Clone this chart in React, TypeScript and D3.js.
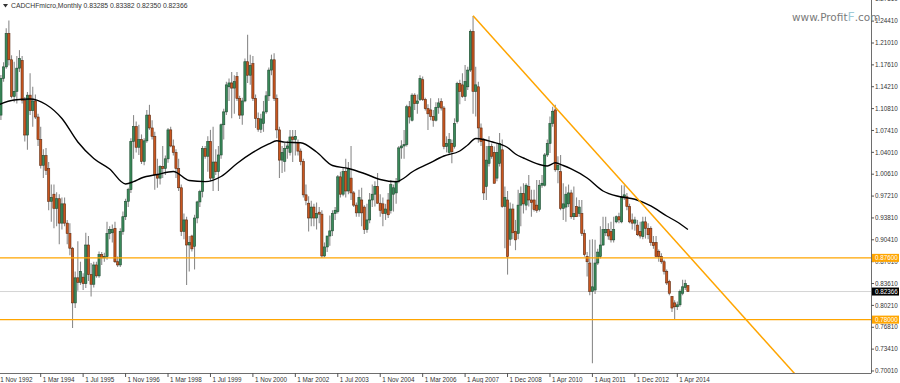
import React from "react";
import * as d3 from "d3";

const W = 900;
const H = 383;

const opens = [
  1.12, 1.098, 1.155, 1.173, 1.225, 1.184, 1.127, 1.135, 1.171, 1.183,
  1.121, 1.067, 1.129, 1.105, 1.12, 1.095, 1.06, 1.02, 1.035, 1.015,
  0.964, 0.975, 0.953, 0.968, 0.93, 0.96, 0.93, 0.914, 0.891, 0.806,
  0.845, 0.838, 0.846, 0.836, 0.896, 0.85, 0.835, 0.865, 0.848, 0.881,
  0.876, 0.878, 0.914, 0.915, 0.922, 0.87, 0.865, 0.917, 0.94, 0.964,
  0.982, 1.057, 1.08, 1.048, 1.06, 1.026, 1.058, 1.098, 1.078, 1.065,
  1.005, 1.0, 1.018, 1.015, 1.03, 1.075, 1.05, 1.04, 1.015, 0.985,
  0.917, 0.935, 0.896, 0.91, 0.894, 0.938, 0.963, 0.979, 1.046, 1.034,
  1.057, 1.0, 1.025, 1.01, 1.036, 1.083, 1.103, 1.142, 1.148, 1.14,
  1.158, 1.124, 1.098, 1.12, 1.181, 1.16, 1.178, 1.124, 1.093, 1.076,
  1.085, 1.103, 1.128, 1.168, 1.184, 1.124, 1.075, 1.028, 1.026, 1.046,
  1.04, 1.064, 1.06, 1.055, 1.042, 1.026, 0.974, 0.961, 0.938, 0.955,
  0.938, 0.947, 0.944, 0.879, 0.893, 0.91, 0.918, 0.945, 0.948, 1.002,
  0.975, 1.01, 0.98, 1.0, 0.977, 0.958, 0.946, 0.966, 0.955, 0.92,
  0.935, 0.966, 0.975, 0.987, 0.961, 0.96, 0.945, 0.966, 0.95, 0.975,
  0.977, 0.995, 1.047, 1.05, 1.052, 1.111, 1.09, 1.129, 1.116, 1.122,
  1.153, 1.122, 1.108, 1.106, 1.096, 1.09, 1.11, 1.119, 1.109, 1.049,
  1.04, 1.054, 1.049, 1.088, 1.147, 1.145, 1.127, 1.142, 1.168, 1.228,
  1.135, 1.142, 1.078, 1.059, 0.987, 1.023, 1.049, 1.04, 1.0, 1.023,
  1.044, 0.956, 0.966, 0.905, 0.952, 0.917, 0.914, 0.958, 0.976, 0.958,
  0.987, 0.966, 0.966, 0.958, 0.951, 0.989, 0.989, 1.036, 1.054, 1.085,
  1.106, 1.013, 1.01, 0.953, 0.955, 0.96, 0.977, 0.94, 0.956, 0.945,
  0.945, 0.914, 0.878, 0.868, 0.824, 0.826, 0.868, 0.878, 0.896, 0.915,
  0.92, 0.917, 0.904, 0.932, 0.94, 0.932, 0.971, 0.971, 0.956, 0.935,
  0.93, 0.927, 0.917, 0.909, 0.932, 0.922, 0.922, 0.9, 0.9, 0.886,
  0.878, 0.87, 0.855, 0.839, 0.816, 0.806, 0.8, 0.803, 0.821, 0.83,
  0.83285,
];

const highs = [
  1.13, 1.1605, 1.18, 1.233, 1.245, 1.191, 1.181, 1.19, 1.199, 1.19,
  1.126, 1.134, 1.163, 1.142, 1.13, 1.1, 1.08, 1.045, 1.047, 1.025,
  0.99, 0.99, 0.978, 0.975, 0.97, 0.97, 0.935, 0.93, 0.893, 0.855,
  0.902, 0.87, 0.852, 0.915, 0.91, 0.868, 0.87, 0.87, 0.886, 0.885,
  0.884, 0.932, 0.925, 0.928, 0.932, 0.878, 0.922, 0.948, 0.968, 0.985,
  1.062, 1.098, 1.088, 1.083, 1.068, 1.062, 1.106, 1.114, 1.09, 1.072,
  1.03, 1.02, 1.05, 1.035, 1.078, 1.08, 1.06, 1.045, 1.03, 0.99,
  0.945, 0.94, 0.91, 0.912, 0.943, 0.965, 0.982, 1.05, 1.05, 1.065,
  1.075, 1.08, 1.045, 1.05, 1.085, 1.108, 1.15, 1.155, 1.165, 1.16,
  1.165, 1.128, 1.125, 1.186, 1.223, 1.192, 1.19, 1.13, 1.102, 1.1,
  1.12, 1.135, 1.172, 1.192, 1.194, 1.13, 1.08, 1.05, 1.055, 1.058,
  1.075, 1.075, 1.075, 1.06, 1.046, 1.03, 0.99, 0.972, 0.965, 0.96,
  0.962, 0.955, 0.95, 0.9, 0.91, 0.942, 0.95, 0.955, 1.005, 1.01,
  1.016, 1.03, 1.025, 1.05, 0.98, 0.962, 0.982, 0.985, 0.958, 0.96,
  0.977, 0.99, 0.995, 1.008, 0.975, 0.97, 0.96, 0.977, 0.997, 0.99,
  1.0, 1.05, 1.059, 1.075, 1.114, 1.12, 1.132, 1.132, 1.13, 1.16,
  1.158, 1.125, 1.115, 1.124, 1.106, 1.118, 1.124, 1.124, 1.112, 1.065,
  1.07, 1.06, 1.093, 1.15, 1.153, 1.163, 1.176, 1.173, 1.231, 1.252,
  1.173, 1.15, 1.085, 1.062, 1.05, 1.065, 1.054, 1.049, 1.054, 1.07,
  1.06, 0.987, 0.98, 0.962, 0.96, 0.935, 0.982, 0.987, 0.992, 0.992,
  1.005, 0.982, 0.982, 0.997, 0.997, 1.005, 1.039, 1.06, 1.096, 1.111,
  1.114, 1.034, 1.036, 0.992, 0.987, 0.99, 0.982, 0.987, 0.97, 0.966,
  0.966, 0.92, 0.885, 0.904, 0.905, 0.904, 0.89, 0.925, 0.94, 0.94,
  0.93, 0.932, 0.94, 0.942, 0.946, 0.989, 0.989, 0.977, 0.96, 0.945,
  0.94, 0.935, 0.932, 0.94, 0.94, 0.93, 0.925, 0.91, 0.91, 0.889,
  0.883, 0.873, 0.858, 0.842, 0.816, 0.81, 0.808, 0.827, 0.842, 0.842,
  0.83382,
];

const lows = [
  1.09, 1.0905, 1.15, 1.17, 1.175, 1.124, 1.118, 1.116, 1.165, 1.116,
  1.057, 1.044, 1.098, 1.08, 1.092, 1.05, 1.015, 1.0, 1.005, 0.95,
  0.932, 0.922, 0.925, 0.897, 0.92, 0.925, 0.897, 0.88, 0.767, 0.798,
  0.825, 0.834, 0.826, 0.829, 0.84, 0.816, 0.83, 0.845, 0.845, 0.865,
  0.87, 0.873, 0.905, 0.9, 0.868, 0.862, 0.862, 0.912, 0.935, 0.955,
  0.977, 1.03, 1.04, 1.036, 1.022, 1.02, 1.055, 1.075, 1.06, 0.982,
  0.985, 0.99, 1.0, 1.005, 1.024, 1.048, 1.035, 1.0, 0.98, 0.91,
  0.905, 0.834, 0.855, 0.886, 0.858, 0.93, 0.955, 0.97, 1.03, 1.01,
  0.995, 0.98, 1.005, 0.98, 1.03, 1.06, 1.098, 1.12, 1.093, 1.1,
  1.12, 1.092, 1.083, 1.118, 1.148, 1.145, 1.12, 1.078, 1.072, 1.07,
  1.072, 1.1, 1.12, 1.16, 1.12, 1.062, 1.0, 1.008, 1.01, 1.03,
  1.035, 1.025, 1.035, 1.035, 1.02, 0.97, 0.958, 0.917, 0.925, 0.925,
  0.92, 0.93, 0.876, 0.877, 0.885, 0.895, 0.91, 0.935, 0.945, 0.97,
  0.972, 0.97, 0.975, 0.966, 0.955, 0.94, 0.94, 0.925, 0.913, 0.915,
  0.93, 0.955, 0.956, 0.96, 0.94, 0.925, 0.935, 0.938, 0.945, 0.948,
  0.96, 0.992, 1.03, 1.03, 1.049, 1.085, 1.088, 1.106, 1.1, 1.12,
  1.12, 1.105, 1.075, 1.09, 1.08, 1.088, 1.1, 1.105, 1.045, 1.04,
  1.037, 1.023, 1.046, 1.085, 1.115, 1.125, 1.12, 1.137, 1.165, 1.1,
  1.096, 1.055, 1.05, 0.966, 0.966, 1.018, 1.03, 0.992, 0.995, 1.018,
  0.954, 0.891, 0.85, 0.895, 0.905, 0.888, 0.905, 0.925, 0.945, 0.95,
  0.956, 0.94, 0.948, 0.946, 0.948, 0.985, 0.987, 1.033, 1.039, 1.08,
  1.01, 0.992, 0.95, 0.935, 0.932, 0.955, 0.937, 0.935, 0.94, 0.94,
  0.91, 0.878, 0.847, 0.818, 0.712, 0.82, 0.865, 0.875, 0.895, 0.91,
  0.904, 0.9, 0.9, 0.93, 0.93, 0.93, 0.966, 0.95, 0.93, 0.92,
  0.918, 0.91, 0.906, 0.905, 0.906, 0.905, 0.895, 0.89, 0.878, 0.87,
  0.867, 0.85, 0.834, 0.818, 0.792, 0.78, 0.795, 0.8, 0.818, 0.826,
  0.8235,
];

const closes = [
  1.098, 1.155, 1.173, 1.225, 1.184, 1.127, 1.135, 1.171, 1.186, 1.121,
  1.067, 1.129, 1.105, 1.12, 1.095, 1.06, 1.02, 1.035, 1.012, 0.964,
  0.97, 0.953, 0.968, 0.93, 0.96, 0.93, 0.914, 0.891, 0.806, 0.845,
  0.838, 0.855, 0.836, 0.896, 0.85, 0.835, 0.865, 0.848, 0.881, 0.876,
  0.878, 0.914, 0.92, 0.92, 0.87, 0.865, 0.917, 0.94, 0.964, 0.982,
  1.057, 1.08, 1.048, 1.06, 1.026, 1.058, 1.098, 1.078, 1.065, 1.005,
  1.0, 1.018, 1.015, 1.03, 1.075, 1.05, 1.04, 1.015, 0.985, 0.917,
  0.935, 0.896, 0.9, 0.89, 0.938, 0.963, 0.979, 1.046, 1.034, 1.057,
  1.0, 1.025, 1.01, 1.036, 1.083, 1.103, 1.145, 1.148, 1.14, 1.15,
  1.124, 1.098, 1.12, 1.181, 1.16, 1.175, 1.124, 1.093, 1.076, 1.092,
  1.103, 1.128, 1.168, 1.184, 1.124, 1.075, 1.028, 1.04, 1.046, 1.05,
  1.064, 1.06, 1.065, 1.042, 1.026, 0.974, 0.965, 0.938, 0.955, 0.938,
  0.945, 0.944, 0.879, 0.893, 0.91, 0.918, 0.945, 0.95, 1.002, 0.975,
  1.01, 0.98, 1.015, 0.977, 0.958, 0.946, 0.97, 0.946, 0.92, 0.935,
  0.966, 0.975, 0.987, 0.961, 0.95, 0.945, 0.952, 0.943, 0.99, 0.985,
  0.995, 1.047, 1.05, 1.052, 1.111, 1.095, 1.129, 1.116, 1.12, 1.155,
  1.122, 1.108, 1.1, 1.096, 1.09, 1.11, 1.117, 1.109, 1.049, 1.054,
  1.06, 1.041, 1.085, 1.147, 1.135, 1.127, 1.15, 1.168, 1.228, 1.135,
  1.145, 1.078, 1.057, 0.977, 1.028, 1.049, 1.034, 0.992, 1.04, 1.054,
  0.956, 0.97, 0.878, 0.952, 0.915, 0.904, 0.958, 0.976, 0.96, 0.989,
  0.966, 0.962, 0.951, 0.95, 0.989, 0.992, 1.036, 1.054, 1.085, 1.104,
  1.013, 1.02, 0.953, 0.96, 0.975, 0.977, 0.94, 0.945, 0.94, 0.955,
  0.914, 0.881, 0.87, 0.824, 0.831, 0.868, 0.885, 0.896, 0.92, 0.92,
  0.91, 0.904, 0.92, 0.94, 0.935, 0.971, 0.974, 0.956, 0.932, 0.93,
  0.935, 0.912, 0.91, 0.932, 0.922, 0.912, 0.9, 0.895, 0.878, 0.878,
  0.87, 0.855, 0.837, 0.821, 0.798, 0.8, 0.803, 0.824, 0.831, 0.836,
  0.82366,
];

// moving average (bar index, value)
const maIdx = [0, 6, 12, 18, 24, 30, 36, 42, 48, 51, 54, 60, 66, 72, 78, 84, 90, 96, 102, 105, 108, 114, 120, 126, 132, 138, 144, 150, 153, 156, 162, 168, 174, 177, 180, 183, 186, 192, 195, 198, 204, 207, 210, 213, 216, 222, 228, 234, 240, 246, 252, 256, 260];
const maVal = [1.114, 1.1215, 1.1231, 1.1145, 1.0927, 1.0562, 1.0305, 1.0142, 0.9909, 0.9945, 1.0002, 1.0057, 1.0103, 0.9963, 0.9945, 1.0025, 1.0228, 1.0399, 1.0531, 1.058, 1.0559, 1.0551, 1.0406, 1.0196, 1.015, 1.0072, 0.9979, 0.9943, 1.0002, 1.0095, 1.022, 1.0344, 1.0422, 1.0515, 1.0616, 1.0601, 1.0566, 1.0476, 1.0375, 1.0313, 1.0212, 1.0189, 1.0238, 1.0196, 1.0142, 1.0002, 0.98, 0.9714, 0.9672, 0.9567, 0.9411, 0.9318, 0.9201];

const dateLabels = [
  "1 Nov 1992", "1 Mar 1994", "1 Jul 1995", "1 Nov 1996", "1 Mar 1998", "1 Jul 1999",
  "1 Nov 2000", "1 Mar 2002", "1 Jul 2003", "1 Nov 2004", "1 Mar 2006", "1 Aug 2007",
  "1 Dec 2008", "1 Apr 2010", "1 Aug 2011", "1 Dec 2012", "1 Apr 2014",
];
const labelStep = 16;

const priceTicks = [0.7001, 0.7341, 0.7681, 0.8021, 0.8361, 0.8701, 0.9041, 0.9381, 0.9721, 1.0061, 1.0401, 1.0741, 1.1081, 1.1421, 1.1761, 1.2101, 1.2441, 1.2781];

const levels = [0.876, 0.78];
const trendIdx = [179, 240];
const trendVal = [1.2525, 0.9725];
const lastPrice = 0.82366;
const titleText = "CADCHFmicro,Monthly  0.83285 0.83382 0.82350 0.82366";

export default function App() {
  const R = 871;
  const B = 373;
  const x = d3.scaleLinear().domain([0, 256]).range([-1.74, 677.3]);
  const y = d3.scaleLinear().domain([0.7001, 1.2101]).range([371, 43]);
  const bw = 2.2;

  const maLine = d3
    .line<number>()
    .x((i) => x(maIdx[i]))
    .y((i) => y(maVal[i]))
    .curve(d3.curveMonotoneX);

  const slope = (trendVal[1] - trendVal[0]) / (trendIdx[1] - trendIdx[0]);
  const endIdx = trendIdx[0] + (0.69 - trendVal[0]) / slope;

  const font = "'Liberation Sans', Arial, sans-serif";

  return (
    <div style={{ position: "absolute", left: 0, top: 0, width: W, height: H, background: "#fff" }}>
      <svg width={W} height={H} style={{ display: "block", fontFamily: font }}>
        <defs>
          <clipPath id="plotclip">
            <rect x={0} y={0} width={R} height={B} />
          </clipPath>
        </defs>
        <g clipPath="url(#plotclip)">
          <line x1={0} x2={R} y1={y(lastPrice)} y2={y(lastPrice)} stroke="#d4d4d4" strokeWidth={1} />
          {closes.map((c, i) => {
            const o = opens[i];
            const cx = x(i);
            const up = c >= o;
            const top = y(Math.max(o, c));
            const h = Math.max(1, Math.abs(y(o) - y(c)));
            return (
              <g key={i}>
                <line x1={cx} x2={cx} y1={y(highs[i])} y2={y(lows[i])} stroke="#8c8c8c" strokeWidth={1.1} />
                <rect
                  x={cx - bw / 2}
                  y={top}
                  width={bw}
                  height={h}
                  fill={up ? "#3a8a5a" : "#c9561f"}
                  stroke={up ? "#1d4a30" : "#5e2a10"}
                  strokeWidth={0.6}
                />
              </g>
            );
          })}
          {levels.map((v, k) => (
            <line key={k} x1={0} x2={R} y1={y(v)} y2={y(v)} stroke="#FFA500" strokeWidth={1.3} />
          ))}
          <path d={maLine(d3.range(maIdx.length)) || ""} fill="none" stroke="#000" strokeWidth={1.4} />
          <line
            x1={x(trendIdx[0])}
            y1={y(trendVal[0])}
            x2={x(endIdx)}
            y2={y(0.69)}
            stroke="#FFA500"
            strokeWidth={1.5}
          />
        </g>

        {/* axes */}
        <line x1={R + 0.5} x2={R + 0.5} y1={0} y2={B} stroke="#6e6e6e" strokeWidth={1} />
        <line x1={0} x2={R + 0.5} y1={B + 0.5} y2={B + 0.5} stroke="#6e6e6e" strokeWidth={1} />

        {priceTicks.map((v, k) => (
          <g key={k}>
            <line x1={R} x2={R + 3} y1={y(v)} y2={y(v)} stroke="#555" strokeWidth={1} />
            <text x={R + 4} y={y(v)} dy="0.35em" fontSize={6.3} fill="#333">
              {v.toFixed(5)}
            </text>
          </g>
        ))}

        {dateLabels.map((lab, k) => {
          const px = x(k * labelStep);
          return (
            <g key={k}>
              <line x1={px} x2={px} y1={B} y2={B + 4} stroke="#555" strokeWidth={1} />
              <text x={px + 2} y={381.5} fontSize={6.3} fill="#333">
                {lab}
              </text>
            </g>
          );
        })}

        {/* level labels */}
        {levels.map((v, k) => (
          <g key={k}>
            <rect x={R + 1} y={y(v) - 4} width={27} height={8} fill="#FFA500" />
            <text x={R + 4} y={y(v)} dy="0.35em" fontSize={6.3} fill="#fff">
              {v.toFixed(5)}
            </text>
          </g>
        ))}
        <rect x={R + 1} y={y(lastPrice) - 4} width={27} height={8} fill="#000" />
        <text x={R + 4} y={y(lastPrice)} dy="0.35em" fontSize={6.3} fill="#fff">
          {lastPrice.toFixed(5)}
        </text>

        {/* title */}
        <path d="M3,4 L8,4 L5.5,7.5 Z" fill="#333" />
        <text x={11} y={8} fontSize={6.8} fill="#333">
          {titleText}
        </text>

        {/* watermark */}
        <text x={792} y={20.5} fontSize={10.5} fill="#7a7a7a" fontFamily="'DejaVu Sans', sans-serif">
          www.Profit
          <tspan fill="#9fcbd8" fontSize={12.5}>F</tspan>
          .com
        </text>
      </svg>
    </div>
  );
}
